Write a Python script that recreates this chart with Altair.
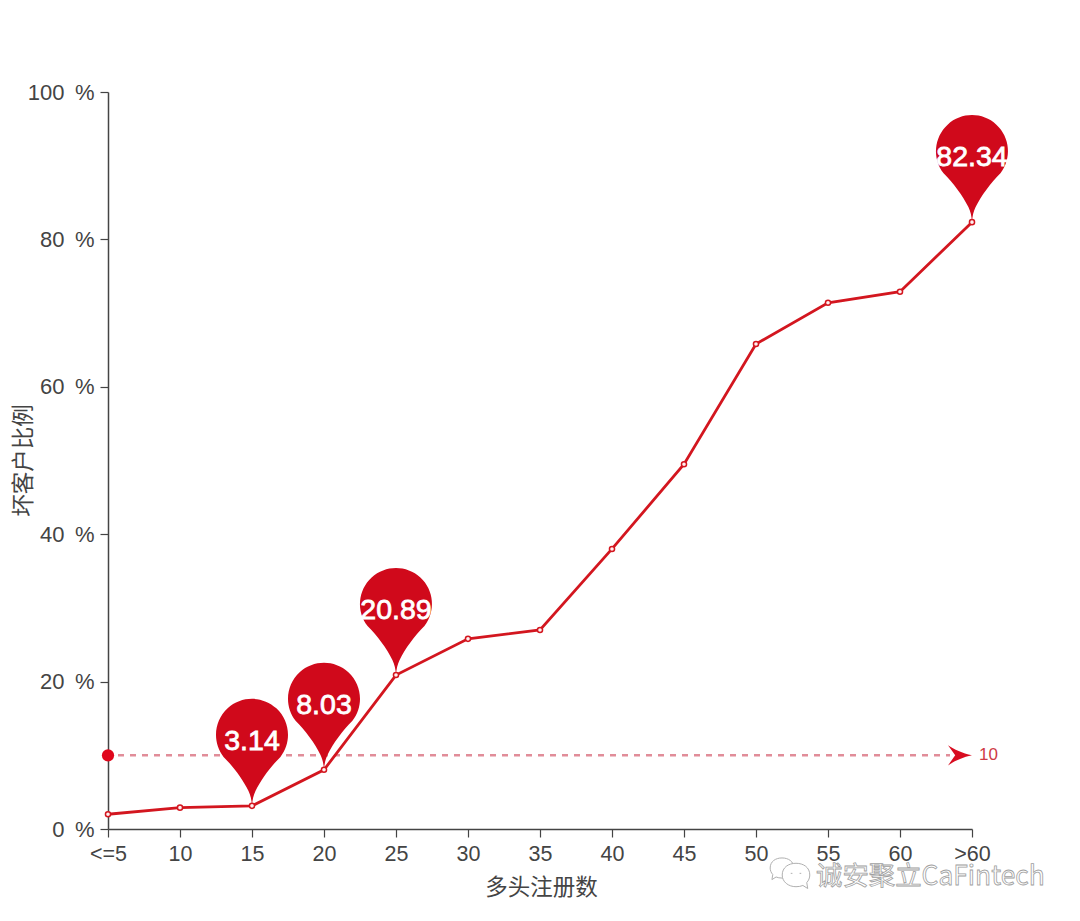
import altair as alt
import pandas as pd

categories = ["<=5", "10", "15", "20", "25", "30", "35", "40", "45", "50", "55", "60", ">60"]
bad_ratio = [2.0, 2.9, 3.14, 8.03, 20.89, 25.8, 27.0, 38.0, 49.5, 65.8, 71.4, 72.9, 82.34]
pin_categories = ["15", "20", "25", ">60"]
pin_values = [3.14, 8.03, 20.89, 82.34]
threshold = 10
y_ticks = [0, 20, 40, 60, 80, 100]

RED = "#d0091b"
LINE = "#d3161f"
AXIS = "#444444"
LATIN = "Liberation Sans"
CJK = "Noto Sans CJK SC"

PIN = ("M0,0 C0.01,-0.16 0.04,-0.3 0.1,-0.42 C0.25,-0.72 0.52,-1.1 0.79,-1.36 "
       "A1,1 0 1 0 -0.79,-1.36 C-0.52,-1.1 -0.25,-0.72 -0.1,-0.42 C-0.04,-0.3 -0.01,-0.16 0,0 Z")
ARROW = "M0,0 C-0.4,-0.08 -0.75,-0.25 -1,-0.42 L-0.7,0 L-1,0.42 C-0.75,0.25 -0.4,0.08 0,0 Z"
BUBBLE_LEFT = ("M-1,0 C-1,-0.55 -0.55,-0.85 0,-0.85 C0.55,-0.85 1,-0.55 1,0 "
               "C1,0.5 0.55,0.85 0,0.85 C-0.2,0.85 -0.35,0.82 -0.5,0.76 L-0.85,0.98 L-0.78,0.55 C-0.92,0.4 -1,0.2 -1,0 Z")
BUBBLE_RIGHT = ("M1,0 C1,-0.55 0.55,-0.85 0,-0.85 C-0.55,-0.85 -1,-0.55 -1,0 "
                "C-1,0.5 -0.55,0.85 0,0.85 C0.2,0.85 0.35,0.82 0.5,0.76 L0.85,0.98 L0.78,0.55 C0.92,0.4 1,0.2 1,0 Z "
                "M-0.38,-0.12 L-0.26,-0.12 M0.26,-0.12 L0.38,-0.12")

line_df = pd.DataFrame({"cat": categories, "v": bad_ratio})
pin_df = pd.DataFrame({"cat": pin_categories, "v": pin_values})
pin_df["label"] = [f"{v:.2f}" for v in pin_values]
th_df = pd.DataFrame({"start": [categories[0]], "end": [categories[-1]], "v": [threshold], "label": [str(threshold)]})

x_scale = alt.Scale(type="point", domain=categories, padding=0)
y_scale = alt.Scale(domain=[0, 100], nice=False)

x_axis = alt.Axis(
    title="多头注册数", labelAngle=0, grid=False, labelFont=LATIN, labelFontSize=21.5, labelColor=AXIS,
    labelPadding=6, labelOverlap=False, tickSize=8, tickColor=AXIS, tickWidth=1.2, domainColor=AXIS, domainWidth=1.5,
    titleFont=CJK, titleFontSize=22.5, titleFontWeight="normal", titleColor=AXIS, titleBaseline="middle",
    titleX=433, titleY=58)
y_axis = alt.Axis(
    title="坏客户比例", values=y_ticks, labelExpr="datum.value + '\u00a0\u2009%'", grid=False, labelFont=LATIN,
    labelFontSize=22, labelColor=AXIS, labelPadding=6, tickSize=8, tickColor=AXIS, tickWidth=1.2, domainColor=AXIS,
    domainWidth=1.5, titleFont=CJK, titleFontSize=22.5, titleFontWeight="normal", titleColor=AXIS,
    titleBaseline="middle", titleX=-85, titleY=368)


def X(field):
    return alt.X(field, scale=x_scale, sort=categories, axis=x_axis)


def Y():
    return alt.Y("v:Q", scale=y_scale, axis=y_axis)


base_th = alt.Chart(th_df)
rule = base_th.mark_rule(color="#d9707f", opacity=0.8, strokeWidth=2.4, strokeDash=[6, 6], xOffset=10, x2Offset=-22).encode(
    x=X("start:N"), x2="end:N", y=Y())
dot = base_th.mark_point(filled=True, color="#e0061c", size=150, opacity=1, shape="circle").encode(x=X("start:N"), y=Y())
arrow = base_th.mark_point(filled=True, color="#d80c20", size=2304, opacity=1, shape=ARROW).encode(x=X("end:N"), y=Y())
th_text = base_th.mark_text(align="left", baseline="middle", dx=7, font=LATIN, fontSize=17, color="#cf3a45").encode(
    x=X("end:N"), y=Y(), text="label:N")

pins = alt.Chart(pin_df).mark_point(filled=True, color=RED, size=5184, opacity=1, shape=PIN).encode(x=X("cat:N"), y=Y())
line = alt.Chart(line_df).mark_line(color=LINE, strokeWidth=2.8).encode(x=X("cat:N"), y=Y())
points = alt.Chart(line_df).mark_point(filled=True, fill="#fff0f0", stroke=LINE, strokeWidth=1.5, size=26, opacity=1, shape="circle").encode(
    x=X("cat:N"), y=Y())
pin_text = alt.Chart(pin_df).mark_text(baseline="middle", dy=-65, font=LATIN, fontSize=28.5, color="white", stroke="white", strokeWidth=0.8).encode(
    x=X("cat:N"), y=Y(), text="label:N")

wm_df = pd.DataFrame({"t": ["诚安聚立CaFintech"]})
watermark = alt.Chart(wm_df).mark_text(align="left", baseline="middle", font=CJK, fontSize=26.4, fill="#ffffff", stroke="#a0a0a0", strokeWidth=0.8).encode(
    x=alt.value(708), y=alt.value(785), text="t:N")
bubble_left = alt.Chart(wm_df).mark_point(filled=True, fill="#ffffff", stroke="#b0b0b0", strokeWidth=1, size=560, opacity=1, shape=BUBBLE_LEFT).encode(
    x=alt.value(674), y=alt.value(776))
bubble_right = alt.Chart(wm_df).mark_point(filled=True, fill="#ffffff", stroke="#b0b0b0", strokeWidth=1, size=760, opacity=1, shape=BUBBLE_RIGHT).encode(
    x=alt.value(688), y=alt.value(783))

chart = alt.layer(rule, dot, arrow, th_text, pins, line, points, pin_text, bubble_left, bubble_right, watermark).properties(
    width=864, height=737,
    autosize=alt.AutoSizeParams(type="none"),
    padding={"left": 100, "top": 84, "right": 100, "bottom": 70},
    background="white",
).configure_view(stroke=None)

chart.save("out.html", embed_options={"renderer": "svg", "actions": False})
